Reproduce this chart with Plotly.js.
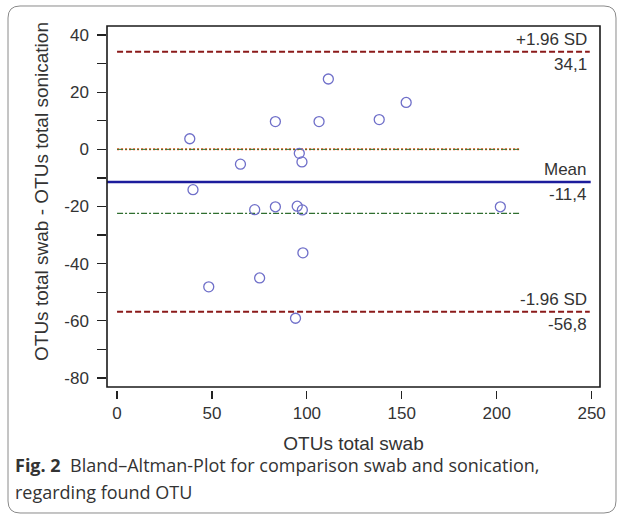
<!DOCTYPE html>
<html>
<head>
<meta charset="utf-8">
<script src="https://cdn.plot.ly/plotly-3.0.1.min.js"></script>
<style>html,body{margin:0;padding:0;background:#fff;}#chart{width:624px;height:515px;}</style>
</head>
<body>
<div id="chart"></div>
<script>
// ---- data ----
const swabTotal = [38.3, 40, 48.3, 65, 72.5, 75.1, 83.4, 83.4, 94, 94.9, 96, 97.6, 97.4, 97.9, 106.4, 111.3, 138.1, 152.3, 201.9];
const diffSwabSonic = [3.7, -14.1, -48.1, -5.2, -21.1, -45, 9.7, -20.1, -59.1, -19.9, -1.4, -21.2, -4.4, -36.2, 9.7, 24.6, 10.4, 16.4, -20.1];
const meanDiff = -11.4;
const upperLoA = 34.1;
const lowerLoA = -56.8;
const zeroLine = 0;
const greenLine = -22.4;
const limitX = [0, 249];
const meanX = [-5.3, 249.5];
const shortX = [0, 212];
const xTicks = [0, 50, 100, 150, 200, 250];
const yTicks = [40, 20, 0, -20, -40, -60, -80];
const labelUpper = ["+1.96 SD", "34,1"];
const labelMean = ["Mean", "-11,4"];
const labelLower = ["-1.96 SD", "-56,8"];
const xTitle = "OTUs total swab";
const yTitle = "OTUs total swab - OTUs total sonication";
const captionBold = "Fig. 2";
const captionLine1 = "Bland–Altman-Plot for comparison swab and sonication,";
const captionLine2 = "regarding found OTU";

// ---- geometry (pixels) ----
const W = 624, H = 515;
const L = 107, R = 600, T = 26, B = 390;
const px = p => (p - L) / (R - L);
const py = p => (B - p) / (B - T);

const txtFont = {family: 'Liberation Sans, Arial, sans-serif', size: 17, color: '#333'};
const titleFont = {family: 'Liberation Sans, Arial, sans-serif', size: 19, color: '#333'};
const capFont = {family: 'Open Sans, sans-serif', size: 18, color: '#333'};

const traces = [
  {x: shortX, y: [zeroLine, zeroLine], mode: 'lines', line: {color: '#ff5a1f', width: 2, dash: '2px,2px'}, hoverinfo: 'skip'},
  {x: shortX, y: [zeroLine, zeroLine], mode: 'lines', line: {color: '#2f6e2f', width: 1, dash: '6px,2px,2px,2px'}, hoverinfo: 'skip'},
  {x: shortX, y: [greenLine, greenLine], mode: 'lines', line: {color: '#2f6e2f', width: 1.2, dash: '6px,2px,2px,2px'}, hoverinfo: 'skip'},
  {x: limitX, y: [upperLoA, upperLoA], mode: 'lines', line: {color: '#8b1a1a', width: 2, dash: '6px,3px'}, hoverinfo: 'skip'},
  {x: limitX, y: [lowerLoA, lowerLoA], mode: 'lines', line: {color: '#8b1a1a', width: 2, dash: '6px,3px'}, hoverinfo: 'skip'},
  {x: meanX, y: [meanDiff, meanDiff], mode: 'lines', line: {color: '#1c1c9c', width: 2.5}, hoverinfo: 'skip'},
  {x: swabTotal, y: diffSwabSonic, mode: 'markers', marker: {symbol: 'circle-open', size: 10, color: '#6f6fc9', line: {width: 1.3, color: '#6f6fc9'}}}
];

function lbl(text, y, above) {
  return {xref: 'paper', yref: 'y', x: px(589), y: y, text: text, showarrow: false,
    xanchor: 'right', yanchor: above ? 'bottom' : 'top', yshift: above ? 1 : -1, font: txtFont};
}

// rounded outer border
function roundRect(x0, y0, x1, y1, r) {
  const f = (a, b) => px(a).toFixed(5) + ',' + py(b).toFixed(5);
  return 'M' + f(x0 + r, y0) + ' L' + f(x1 - r, y0) + ' Q' + f(x1, y0) + ' ' + f(x1, y0 + r) +
    ' L' + f(x1, y1 - r) + ' Q' + f(x1, y1) + ' ' + f(x1 - r, y1) +
    ' L' + f(x0 + r, y1) + ' Q' + f(x0, y1) + ' ' + f(x0, y1 - r) +
    ' L' + f(x0, y0 + r) + ' Q' + f(x0, y0) + ' ' + f(x0 + r, y0) + ' Z';
}

const layout = {
  width: W, height: H,
  margin: {l: L, r: W - R, t: T, b: H - B, pad: 0},
  paper_bgcolor: '#fff', plot_bgcolor: '#fff',
  showlegend: false,
  font: txtFont,
  xaxis: {
    range: [-5.3, 254.4], tickvals: xTicks, ticktext: xTicks.map(String),
    ticks: 'outside', ticklen: 8, tickwidth: 1.2, tickcolor: '#222',
    showgrid: false, zeroline: false, showline: false,
    tickfont: txtFont,
    title: {text: xTitle, font: titleFont, standoff: 14}
  },
  yaxis: {
    range: [-84.2, 43.15], tickvals: yTicks, ticktext: yTicks.map(v => v + '\u00a0'),
    ticks: 'outside', ticklen: 9, tickwidth: 1.2, tickcolor: '#222',
    minor: {dtick: 10, tick0: 0, ticks: 'outside', ticklen: 9, tickwidth: 1.2, tickcolor: '#222', showgrid: false},
    showgrid: false, zeroline: false, showline: false,
    tickfont: txtFont
  },
  shapes: [
    {type: 'rect', xref: 'paper', yref: 'paper', x0: 0, x1: 1, y0: py(387), y1: 1, line: {color: '#1a1a1a', width: 1.6}},
    {type: 'path', xref: 'paper', yref: 'paper', path: roundRect(8, 6, 616, 513, 12), line: {color: '#8a8a8a', width: 1}}
  ],
  annotations: [
    lbl(labelUpper[0], upperLoA, true), lbl(labelUpper[1], upperLoA, false),
    lbl(labelMean[0], meanDiff, true), lbl(labelMean[1], meanDiff, false),
    lbl(labelLower[0], lowerLoA, true), lbl(labelLower[1], lowerLoA, false),
    {xref: 'paper', yref: 'paper', x: px(41), y: py(192), xanchor: 'center', yanchor: 'middle', textangle: -90,
     showarrow: false, text: yTitle, font: titleFont},
    {xref: 'paper', yref: 'paper', x: px(13), y: py(465), xanchor: 'left', yanchor: 'middle', showarrow: false, align: 'left',
     text: '<b>' + captionBold + '</b>  ' + captionLine1, font: capFont},
    {xref: 'paper', yref: 'paper', x: px(13), y: py(492), xanchor: 'left', yanchor: 'middle', showarrow: false, align: 'left',
     text: captionLine2, font: capFont}
  ]
};

Plotly.newPlot('chart', traces, layout, {displayModeBar: false, staticPlot: true});
</script>
</body>
</html>
